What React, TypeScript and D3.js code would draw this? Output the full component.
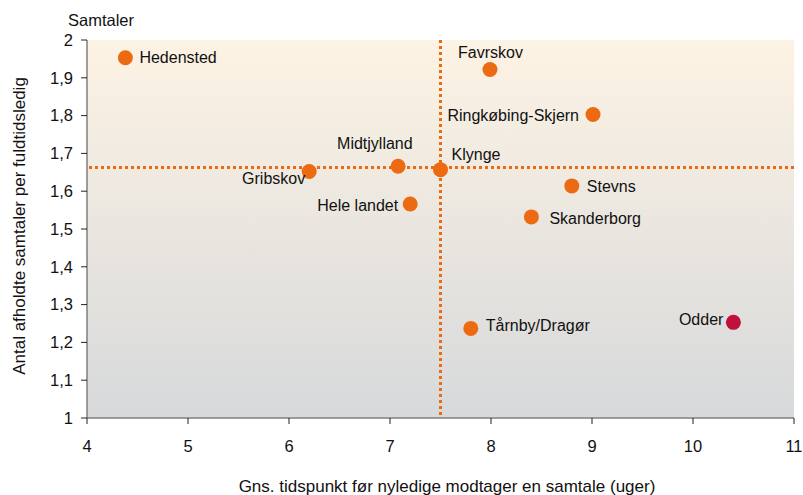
import React from "react";
import * as d3 from "d3";

// kommuner: gns. uger før samtale (x) og samtaler per fuldtidsledig (y)
const names = ["Hedensted", "Favrskov", "Ringkøbing-Skjern", "Midtjylland", "Gribskov", "Klynge", "Stevns", "Hele landet", "Skanderborg", "Tårnby/Dragør", "Odder"];
const weeks = [4.38, 7.99, 9.01, 7.08, 6.2, 7.5, 8.8, 7.2, 8.4, 7.8, 10.4];
const talks = [1.953, 1.922, 1.803, 1.666, 1.652, 1.657, 1.614, 1.566, 1.532, 1.237, 1.253];
const highlight = ["Odder"];
// label placement: dx, dy, anchor
const labelPos: [number, number, string][] = [
  [14, 0, "start"],
  [-32, -17, "start"],
  [-14, 1, "end"],
  [-61, -23, "start"],
  [-4, 7, "end"],
  [11, -15, "start"],
  [15, 0, "start"],
  [-12, 1, "end"],
  [18, 1, "start"],
  [15, -3, "start"],
  [-10, -3, "end"],
];

const refX = 7.5;
const refY = 1.663;

const xTicks = [4, 5, 6, 7, 8, 9, 10, 11];
const yTicks = [1, 1.1, 1.2, 1.3, 1.4, 1.5, 1.6, 1.7, 1.8, 1.9, 2];

const W = 803;
const H = 495;
const m = { left: 87, right: 9, top: 40, bottom: 77 };

export default function App() {
  const x = d3.scaleLinear().domain([4, 11]).range([m.left, W - m.right]);
  const y = d3.scaleLinear().domain([1, 2]).range([H - m.bottom, m.top]);
  const fmt = (v: number) => String(+v.toFixed(1)).replace(".", ",");
  const font = "'Liberation Sans', Arial, sans-serif";
  const orange = "#ec6b12";

  return (
    <svg width={W} height={H} style={{ position: "absolute", left: 0, top: 0, fontFamily: font }}>
      <defs>
        <linearGradient id="bg" x1="0" y1="0" x2="0" y2="1">
          <stop offset="0%" stopColor="#fdf3e4" />
          <stop offset="100%" stopColor="#d7d9db" />
        </linearGradient>
      </defs>
      <rect x={x(4)} y={y(2)} width={x(11) - x(4)} height={y(1) - y(2)} fill="url(#bg)" />

      {/* reference lines */}
      <line x1={x(4) + 2} x2={x(11)} y1={y(refY)} y2={y(refY)} stroke={orange} strokeWidth={3} strokeDasharray="3 3" />
      <line x1={x(refX)} x2={x(refX)} y1={y(2)} y2={y(1)} stroke={orange} strokeWidth={3} strokeDasharray="3 3" />

      {/* axes */}
      <line x1={x(4)} x2={x(4)} y1={y(2)} y2={y(1)} stroke="#7f7f7f" strokeWidth={1.5} />
      <line x1={x(4)} x2={x(11)} y1={y(1)} y2={y(1)} stroke="#7f7f7f" strokeWidth={1.5} />
      {yTicks.map((t) => (
        <g key={t}>
          <line x1={x(4) - 6} x2={x(4)} y1={y(t)} y2={y(t)} stroke="#222" />
          <text x={x(4) - 14} y={y(t)} dy="0.35em" textAnchor="end" fontSize={16.5} fill="#111">{fmt(t)}</text>
        </g>
      ))}
      {xTicks.map((t) => (
        <g key={t}>
          <line x1={x(t)} x2={x(t)} y1={y(1)} y2={y(1) + 6} stroke="#222" />
          <text x={x(t)} y={y(1) + 28} dy="0.35em" textAnchor="middle" fontSize={16.5} fill="#111">{t}</text>
        </g>
      ))}

      <text x={68} y={20} dy="0.35em" fontSize={16.5} fill="#111">Samtaler</text>
      <text transform={`translate(19,226) rotate(-90)`} textAnchor="middle" dy="0.35em" fontSize={17} fill="#111">
        Antal afholdte samtaler per fuldtidsledig
      </text>
      <text x={447} y={486} dy="0.35em" textAnchor="middle" fontSize={17} fill="#111">
        Gns. tidspunkt før nyledige modtager en samtale (uger)
      </text>

      {names.map((n, i) => {
        const cx = x(weeks[i]);
        const cy = y(talks[i]);
        const [dx, dy, anchor] = labelPos[i];
        return (
          <g key={n}>
            <circle cx={cx} cy={cy} r={7.5} fill={highlight.includes(n) ? "#c0103c" : orange} />
            <text x={cx + dx} y={cy + dy} dy="0.35em" textAnchor={anchor as any} fontSize={16} fill="#111">{n}</text>
          </g>
        );
      })}
    </svg>
  );
}
